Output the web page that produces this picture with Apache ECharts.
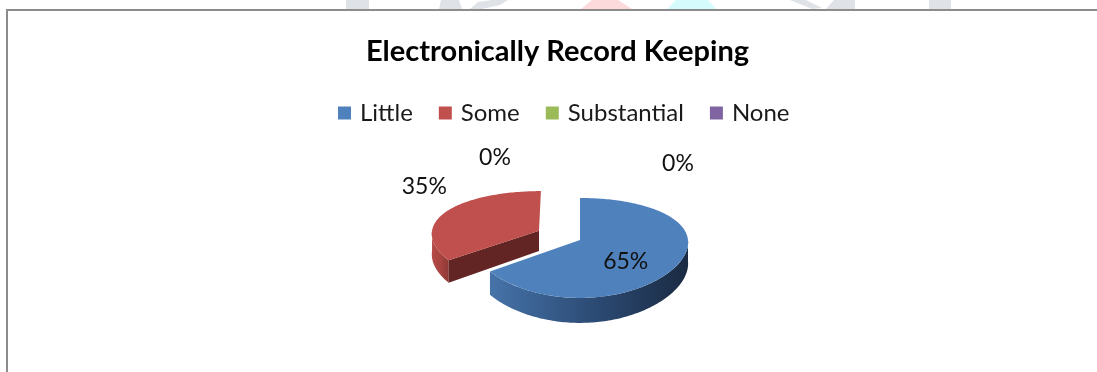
<!DOCTYPE html>
<html><head><meta charset="utf-8">
<script src="https://cdn.jsdelivr.net/npm/echarts@6/dist/echarts.min.js"></script>
<style>html,body{margin:0;padding:0;background:#fff;}#c{width:1097px;height:372px;}</style>
</head><body><div id="c"></div>
<script>
// ---- data ----
const title = 'Electronically Record Keeping';
const categories = ['Little', 'Some', 'Substantial', 'None'];
const values = [65, 35, 0, 0];
// ---- styles ----
const topColors = ['#4F81BD', '#C0504D', '#9BBB59', '#8064A2'];
const sideStops = [['#4673a9', '#2d4d77', '#1a2a42'], ['#b64b48', '#a84441', '#8e3835'], ['#8aa84f', '#7d9a47', '#6b843c'], ['#72598f', '#664f80', '#56436c']];
const cutColors = ['#23395a', '#632523', '#4e6029', '#40315a'];
const explode = [0, 0.43, 0, 0];
const labelPlace = ['inside', 'outside', 'outside', 'outside'];
const FONT = 'Lato';
const TITLE_SIZE = 29, LEGEND_SIZE = 24, LABEL_SIZE = 23;

const total = values.reduce((a, b) => a + b, 0);
const cum = [];
values.reduce((acc, v) => { cum.push(acc); return acc + v; }, 0);

// text measuring helper for centring
const mctx = document.createElement('canvas').getContext('2d');
function textW(txt, font) { mctx.font = font; return mctx.measureText(txt).width; }

// 3D pie geometry (layout constants)
const G = { cxr: 0.5287, cyr: 0.645, a: 108, b: 48.7, p: 0.16, q: 0.05, H: 21 };
function proj(cx, cy, u, v, h) {
  const s = 1 / (1 + G.p * v), sx = 1 / (1 + G.q * v);
  return [cx + G.a * u * sx, cy - G.b * v * s + G.H * h * s];
}

function makeRender(k) {
  return function (params, api) {
    const W = api.getWidth(), Hh = api.getHeight();
    const cx = W * G.cxr, cy = Hh * G.cyr;
    const val = api.value(0);
    const TW = Math.PI * 2;
    const t1 = cum[k] / total * TW, t2 = (cum[k] + val) / total * TW;
    const mid = (t1 + t2) / 2;
    const ou = explode[k] * Math.sin(mid), ov = explode[k] * Math.cos(mid);
    const P = (r, t, h) => proj(cx, cy, ou + r * Math.sin(t), ov + r * Math.cos(t), h);
    const children = [];
    if (val > 0) {
      const f1 = Math.max(t1, Math.PI / 2), f2 = Math.min(t2, Math.PI * 1.5);
      if (f2 > f1) {
        const n = Math.max(2, Math.ceil((f2 - f1) / 0.02));
        const top = [], bot = [];
        for (let i = 0; i <= n; i++) { const t = f1 + (f2 - f1) * i / n; top.push(P(1, t, 0)); bot.push(P(1, t, 1)); }
        const st = sideStops[k];
        children.push({ type: 'polygon', shape: { points: top.concat(bot.reverse()) },
          style: { fill: { type: 'linear', x: 0, y: 0, x2: 1, y2: 0, colorStops: [
            { offset: 0, color: st[0] }, { offset: 0.5, color: st[1] }, { offset: 1, color: st[2] }] } } });
      }
      [[t1, t1 - Math.PI / 2], [t2, t2 + Math.PI / 2]].forEach(([t, phi]) => {
        if (Math.cos(phi) < -0.05) {
          children.push({ type: 'polygon', shape: { points: [P(0, t, 0), P(1, t, 0), P(1, t, 1), P(0, t, 1)] },
            style: { fill: cutColors[k] } });
        }
      });
      const n = Math.max(2, Math.ceil((t2 - t1) / 0.02));
      const pts = [P(0, t1, 0)];
      for (let i = 0; i <= n; i++) pts.push(P(1, t1 + (t2 - t1) * i / n, 0));
      children.push({ type: 'polygon', shape: { points: pts }, style: { fill: topColors[k] } });
    }
    const pct = Math.round(val / total * 100) + '%';
    let lx, ly;
    if (labelPlace[k] === 'inside') {
      [lx, ly] = P(0.47, mid, 0.5);
    } else {
      [lx, ly] = P(1.25, mid, 0);
      ly -= 20;
      if (val === 0) {
        const zi = values.slice(0, k).filter(v => v === 0).length;
        lx += zi % 2 === 0 ? -85 : 98;
        ly -= zi % 2 === 0 ? 12 : 6;
      }
    }
    children.push({ type: 'text', x: lx, y: ly, z2: 100,
      style: { text: pct, fill: '#111', fontFamily: FONT, fontSize: LABEL_SIZE, align: 'center', verticalAlign: 'middle' } });
    return { type: 'group', children };
  };
}

const series = categories.map((name, k) => ({
  type: 'custom', name, coordinateSystem: 'none',
  z: 10 - k,
  itemStyle: { color: topColors[k] },
  data: [[values[k]]],
  renderItem: makeRender(k),
  animation: false
}));

// centring of title / legend (the original chart area is slightly wider than the view)
const titleCenter = 557.5, legendCenter = 563.5;
const ICON = 13, GAP = 26, TXTPAD = 4;
const tW = textW(title, 'bold ' + TITLE_SIZE + 'px ' + FONT);
const lW = categories.reduce((s, c) => s + ICON + 5 + TXTPAD + textW(c, LEGEND_SIZE + 'px ' + FONT), 0) + GAP * (categories.length - 1);

// faint watermark fragments above the frame
const wm = [
  { pts: [[346, 0], [369, 0], [369, 9], [346, 9]], c: '#dfe3e7' },
  { pts: [[441, 0], [459, 0], [462, 9], [439, 9]], c: '#dfe3e7' },
  { pts: [[470, 9], [478, 2], [492, 0], [508, 0], [500, 5], [482, 9]], c: '#dfe3e7' },
  { pts: [[592, 0], [618, 0], [632, 9], [581, 9]], c: '#fcd9da' },
  { pts: [[676, 0], [708, 0], [716, 9], [667, 9]], c: '#d6fbfd' },
  { pts: [[790, 0], [806, 0], [822, 8], [812, 9]], c: '#dfe3e7' },
  { pts: [[826, 9], [834, 0], [855, 0], [855, 9]], c: '#dfe3e7' },
  { pts: [[929, 0], [951, 0], [951, 9], [929, 9]], c: '#dfe3e7' }
].map(o => ({ type: 'polygon', shape: { points: o.pts }, style: { fill: o.c }, silent: true }));

const chart = echarts.init(document.getElementById('c'), null, { renderer: 'canvas' });
chart.setOption({
  backgroundColor: '#fff',
  animation: false,
  title: { text: title, left: Math.round(titleCenter - tW / 2), top: 32, padding: [5, 0, 5, 0],
    textStyle: { fontFamily: FONT, fontWeight: 'bold', fontSize: TITLE_SIZE, color: '#000' } },
  legend: { data: categories, left: Math.round(legendCenter - lW / 2), top: 101, padding: 0, icon: 'rect',
    itemWidth: ICON, itemHeight: ICON, itemGap: GAP,
    textStyle: { fontFamily: FONT, fontSize: LEGEND_SIZE, color: '#1a1a1a', padding: [0, 0, 0, TXTPAD] } },
  graphic: wm.concat([
    { type: 'rect', shape: { x: 7, y: 10, width: 1400, height: 600 }, style: { fill: null, stroke: '#8c8c8c', lineWidth: 2 }, silent: true }
  ]),
  series
});
</script></body></html>
